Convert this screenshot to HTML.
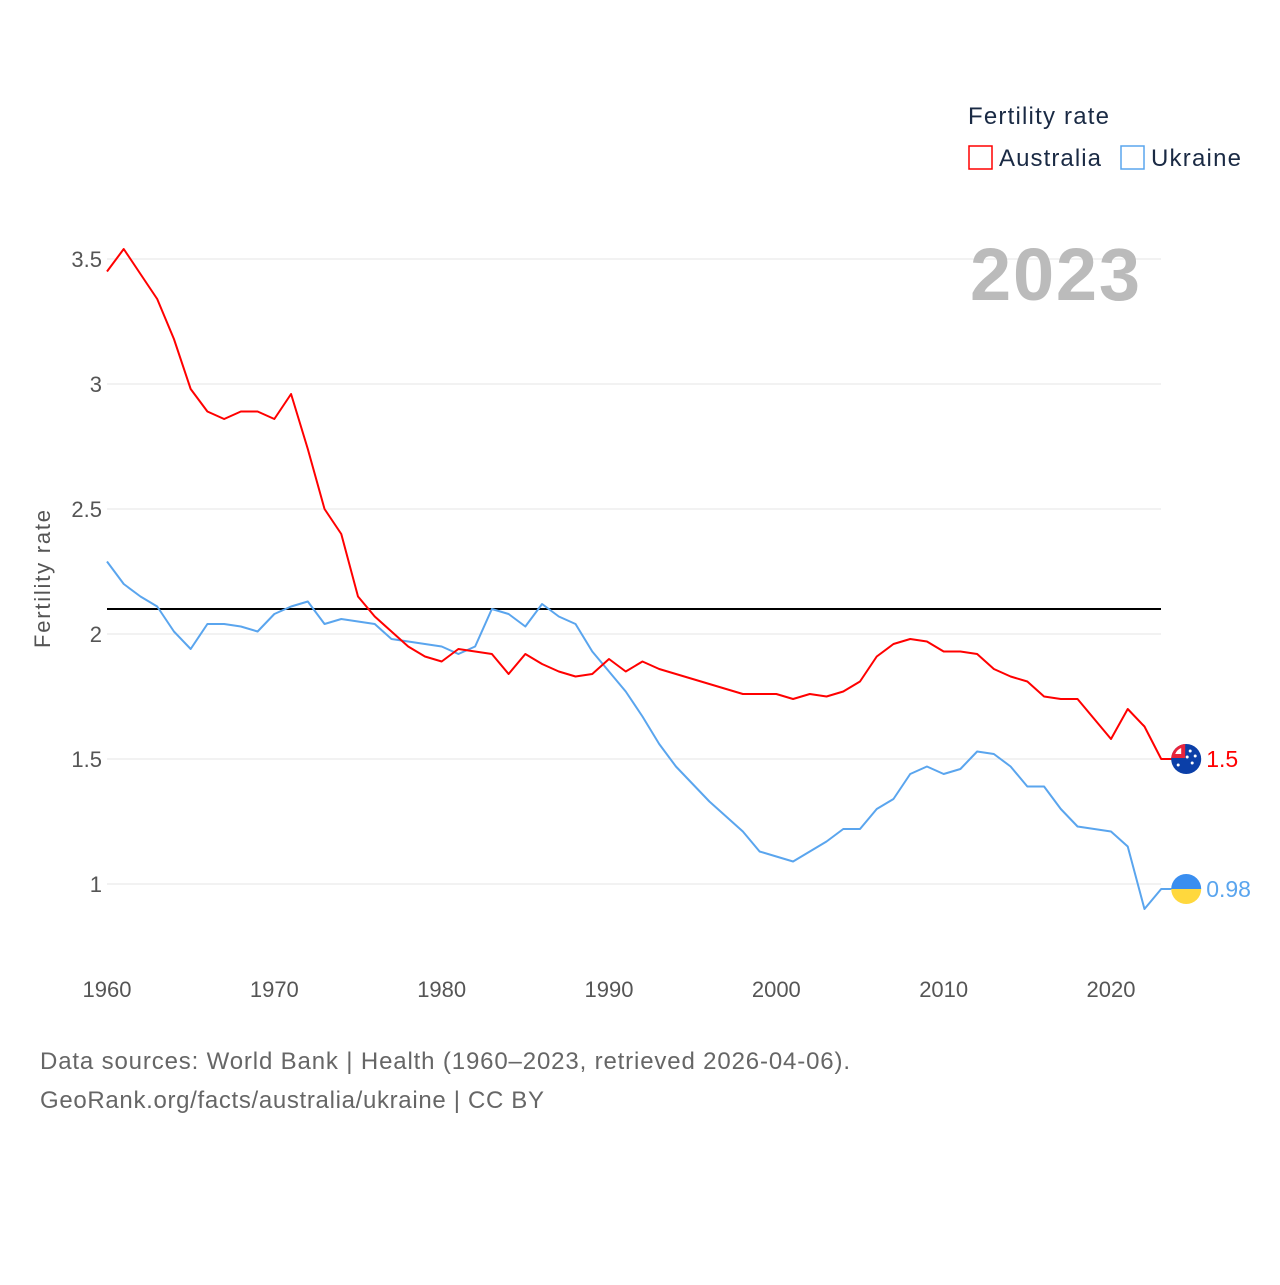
<!DOCTYPE html>
<html><head><meta charset="utf-8"><style>
body{margin:0;background:#fff;font-family:"Liberation Sans",sans-serif}
svg text{font-family:"Liberation Sans",sans-serif}
</style></head><body>
<svg id="chart" width="1280" height="1280" viewBox="0 0 1280 1280" xmlns="http://www.w3.org/2000/svg">
<g id="grid"></g>
<g id="yticks"></g>
<g id="xticks"></g>
<text transform="translate(50,579) rotate(-90)" text-anchor="middle" font-size="22" fill="#555" textLength="138">Fertility rate</text>
<text x="1140" y="300" text-anchor="end" font-size="74" font-weight="bold" fill="#bbb" textLength="170">2023</text>
<text x="968" y="124" font-size="24" fill="#1a2a44" textLength="141">Fertility rate</text>
<g><rect x="969" y="146" width="23" height="23" fill="none" stroke="#f00" stroke-width="1.5"/><text x="999" y="166" font-size="24" fill="#1a2a44" textLength="102">Australia</text></g>
<g><rect x="1121" y="146" width="23" height="23" fill="none" stroke="#5aa5ee" stroke-width="1.5"/><text x="1151" y="166" font-size="24" fill="#1a2a44" textLength="90">Ukraine</text></g>
<g id="series"></g>
<text x="40" y="1069" font-size="24" fill="#666" textLength="810">Data sources: World Bank | Health (1960–2023, retrieved 2026-04-06).</text>
<text x="40" y="1108" font-size="24" fill="#666" textLength="504">GeoRank.org/facts/australia/ukraine | CC BY</text>
</svg>
<script>
const years=[];for(let y=1960;y<=2023;y++)years.push(y);
const australia=[3.45,3.54,3.44,3.34,3.18,2.98,2.89,2.86,2.89,2.89,2.86,2.96,2.74,2.50,2.40,2.15,2.07,2.01,1.95,1.91,1.89,1.94,1.93,1.92,1.84,1.92,1.88,1.85,1.83,1.84,1.90,1.85,1.89,1.86,1.84,1.82,1.80,1.78,1.76,1.76,1.76,1.74,1.76,1.75,1.77,1.81,1.91,1.96,1.98,1.97,1.93,1.93,1.92,1.86,1.83,1.81,1.75,1.74,1.74,1.66,1.58,1.70,1.63,1.50];
const ukraine=[2.29,2.20,2.15,2.11,2.01,1.94,2.04,2.04,2.03,2.01,2.08,2.11,2.13,2.04,2.06,2.05,2.04,1.98,1.97,1.96,1.95,1.92,1.95,2.10,2.08,2.03,2.12,2.07,2.04,1.93,1.85,1.77,1.67,1.56,1.47,1.40,1.33,1.27,1.21,1.13,1.11,1.09,1.13,1.17,1.22,1.22,1.30,1.34,1.44,1.47,1.44,1.46,1.53,1.52,1.47,1.39,1.39,1.30,1.23,1.22,1.21,1.15,0.90,0.98];
const yTicks=[1,1.5,2,2.5,3,3.5];
const yTickLabels=["1","1.5","2","2.5","3","3.5"];
const xTicks=[1960,1970,1980,1990,2000,2010,2020];
const replacement=[2.1];
const lastLabels=["1.5","0.98"];
const NS="http://www.w3.org/2000/svg";
const X=y=>107+(y-1960)*1004/60;
const Y=v=>884-(v-1)*250;
function mk(tag,attrs,parent){const e=document.createElementNS(NS,tag);for(const k in attrs)e.setAttribute(k,attrs[k]);parent.appendChild(e);return e;}
const grid=document.getElementById('grid'),yt=document.getElementById('yticks'),xt=document.getElementById('xticks'),ser=document.getElementById('series');
yTicks.forEach((v,i)=>{
 const l=mk('line',{x1:107,x2:1161,y1:Y(v),y2:Y(v),stroke:'#e6e6e6','stroke-width':1},grid);
 
 
 const t=mk('text',{x:102,y:Y(v)+8,'text-anchor':'end','font-size':22,fill:'#555'},yt);
 t.textContent=yTickLabels[i];
 
 
});
xTicks.forEach(y=>{
 const t=mk('text',{x:X(y),y:997,'text-anchor':'middle','font-size':22,fill:'#555'},xt);
 t.textContent=y;
 
 
});
const ref=mk('line',{x1:107,x2:1161,y1:Y(replacement[0]),y2:Y(replacement[0]),stroke:'#000','stroke-width':2},ser);


const ly=years[years.length-1];
const ax=X(ly)+25;
function line(data,color,name){
 const pts=data.map((v,i)=>X(years[i])+','+Y(v));
 pts.push((ax-10)+','+Y(data[data.length-1]));
 const p=mk('polyline',{points:pts.join(' '),fill:'none',stroke:color,'stroke-width':2,'stroke-linejoin':'round'},ser);
 
 
}
line(ukraine,'#5aa5ee','ukraine-line');
line(australia,'#f00','australia-line');
const ayA=Y(australia[australia.length-1]), ayU=Y(ukraine[ukraine.length-1]);
const ga=mk('g',{},ser);


mk('circle',{cx:ax,cy:ayA,r:15,fill:'#0b3fa8'},ga);
mk('path',{d:`M${ax-15} ${ayA-1} A15 15 0 0 1 ${ax-1} ${ayA-15} L${ax-1} ${ayA-1} Z`,fill:'#e8243c'},ga);
mk('path',{d:`M${ax-11} ${ayA-5} A11 11 0 0 1 ${ax-5} ${ayA-11} L${ax-5} ${ayA-5} Z`,fill:'#fff'},ga);
[[4,-8],[9,-3],[6,4],[-8,6],[1,-2]].forEach(([dx,dy])=>mk('circle',{cx:ax+dx,cy:ayA+dy,r:1.5,fill:'#fff'},ga));
const ta=mk('text',{x:ax+20,y:ayA+8,'font-size':23,fill:'#f00'},ser);
ta.textContent=lastLabels[0];


const gu=mk('g',{},ser);


mk('path',{d:`M${ax-15} ${ayU} A15 15 0 0 1 ${ax+15} ${ayU} Z`,fill:'#3a8ef0'},gu);
mk('path',{d:`M${ax-15} ${ayU} A15 15 0 0 0 ${ax+15} ${ayU} Z`,fill:'#ffd83d'},gu);
const tu=mk('text',{x:ax+20,y:ayU+8,'font-size':23,fill:'#5aa5ee'},ser);
tu.textContent=lastLabels[1];


</script>
</body></html>
